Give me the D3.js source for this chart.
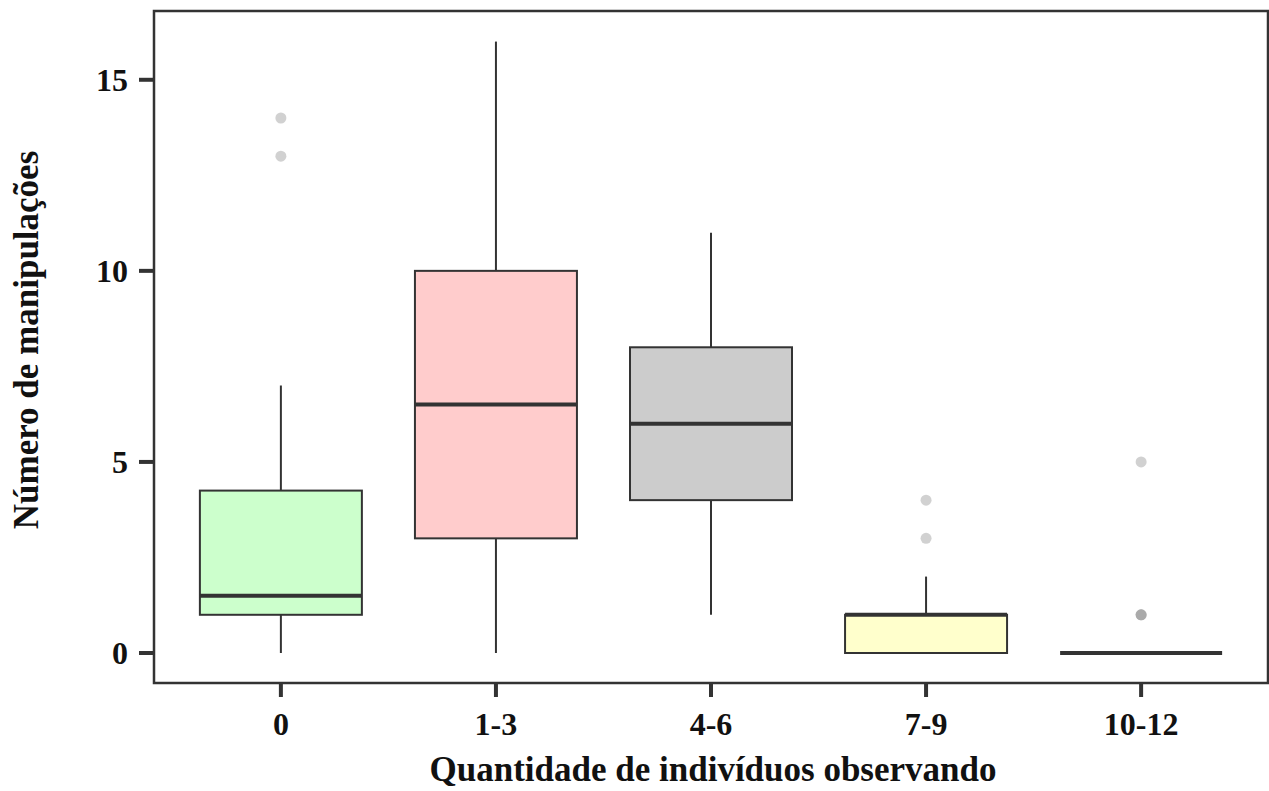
<!DOCTYPE html>
<html>
<head>
<meta charset="utf-8">
<script src="https://cdn.jsdelivr.net/npm/d3@7"></script>
<style>
  body { margin: 0; background: #fff; }
  text { font-family: "Liberation Serif", "DejaVu Serif", serif; font-weight: bold; fill: #111; }
</style>
</head>
<body>
<svg id="chart" width="1269" height="791"></svg>
<script>
// categories and five-number summaries
var categories = ['0', '1-3', '4-6', '7-9', '10-12'];
var mins    = [0, 0, 1, 0, 0];
var q1s     = [1, 3, 4, 0, 0];
var medians = [1.5, 6.5, 6, 1, 0];
var q3s     = [4.25, 10, 8, 1, 0];
var maxs    = [7, 16, 11, 2, 0];
var outliers = [[13, 14], [], [], [3, 4], [1, 1, 1, 5]];
var fills = ['#ccffcc', '#ffcccc', '#cccccc', '#ffffcc', '#ffffff'];
var yTicks = [0, 5, 10, 15];

(function () {
  var plotL = 154, plotR = 1268, plotT = 11, plotB = 683;
  var svg = d3.select('#chart');

  var x = d3.scalePoint().domain(categories).range([plotL, plotR]).padding(0.59);
  var y = d3.scaleLinear().domain([-0.785, 16.8]).range([plotB, plotT]);
  var boxW = 162;

  // frame
  svg.append('rect')
    .attr('x', plotL).attr('y', plotT)
    .attr('width', plotR - plotL).attr('height', plotB - plotT)
    .attr('fill', 'none').attr('stroke', '#333').attr('stroke-width', 2.5);

  var g = svg.append('g');
  categories.forEach(function (c, i) {
    var cx = x(c);
    // whiskers
    g.append('line').attr('x1', cx).attr('x2', cx)
      .attr('y1', y(q3s[i])).attr('y2', y(maxs[i]))
      .attr('stroke', '#333').attr('stroke-width', 2);
    g.append('line').attr('x1', cx).attr('x2', cx)
      .attr('y1', y(q1s[i])).attr('y2', y(mins[i]))
      .attr('stroke', '#333').attr('stroke-width', 2);
    // box
    g.append('rect')
      .attr('x', cx - boxW / 2).attr('y', y(q3s[i]))
      .attr('width', boxW).attr('height', Math.max(0, y(q1s[i]) - y(q3s[i])))
      .attr('fill', fills[i]).attr('stroke', '#333').attr('stroke-width', 2);
    // median
    g.append('line')
      .attr('x1', cx - boxW / 2).attr('x2', cx + boxW / 2)
      .attr('y1', y(medians[i])).attr('y2', y(medians[i]))
      .attr('stroke', '#333').attr('stroke-width', 4);
    // outliers
    outliers[i].forEach(function (v) {
      g.append('circle').attr('cx', cx).attr('cy', y(v)).attr('r', 5.5)
        .attr('fill', '#999').attr('fill-opacity', 0.45);
    });
  });

  // y axis ticks
  var yAxis = svg.append('g');
  yTicks.forEach(function (t) {
    yAxis.append('line').attr('x1', plotL - 15).attr('x2', plotL)
      .attr('y1', y(t)).attr('y2', y(t))
      .attr('stroke', '#333').attr('stroke-width', 4);
    yAxis.append('text').attr('x', plotL - 26).attr('y', y(t))
      .attr('text-anchor', 'end').attr('dominant-baseline', 'central')
      .attr('font-size', 32).text(t);
  });

  // x axis ticks
  var xAxis = svg.append('g');
  categories.forEach(function (c) {
    xAxis.append('line').attr('x1', x(c)).attr('x2', x(c))
      .attr('y1', plotB).attr('y2', plotB + 14)
      .attr('stroke', '#333').attr('stroke-width', 4);
    xAxis.append('text').attr('x', x(c)).attr('y', plotB + 52)
      .attr('text-anchor', 'middle').attr('font-size', 32).text(c);
  });

  // titles
  svg.append('text').attr('x', 713).attr('y', 781)
    .attr('text-anchor', 'middle').attr('font-size', 35)
    .text('Quantidade de indivíduos observando');
  svg.append('text')
    .attr('transform', 'translate(38,340) rotate(-90)')
    .attr('text-anchor', 'middle')
    .attr('font-size', 35)
    .text('Número de manipulações');
})();
</script>
</body>
</html>
